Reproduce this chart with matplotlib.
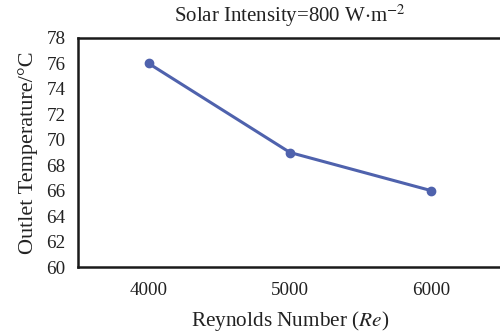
import matplotlib
matplotlib.use("Agg")
import matplotlib.pyplot as plt

plt.rcParams['font.family'] = ['Liberation Serif', 'DejaVu Serif']
plt.rcParams['mathtext.fontset'] = 'stix'

# Reynolds number vs outlet temperature
reynolds = [4000, 5000, 6000]
outlet_temp = [76, 69, 66]
y_ticks = [60, 62, 64, 66, 68, 70, 72, 74, 76, 78]

fig = plt.figure(figsize=(5.0, 3.36), dpi=100)
ax = fig.add_axes([78 / 500, 69 / 336, 424 / 500, 229 / 336])

ax.plot(reynolds, outlet_temp, '-o', color='#4f62ad', lw=2.2, ms=6)

ax.set_xlim(3500, 6500)
ax.set_ylim(60, 78)
ax.set_xticks(reynolds)
ax.set_yticks(y_ticks)
ax.tick_params(length=0, labelsize=13.8, colors='#222222', pad=9)
ax.tick_params(axis='x', pad=11)

for s in ['left', 'bottom', 'top']:
    ax.spines[s].set_linewidth(1.8)
    ax.spines[s].set_color('#1a1a1a')
ax.spines['right'].set_visible(False)

ax.set_title('Solar Intensity=800 W$\\cdot$m$^{-2}$', fontsize=15, pad=12, color='#222222')
ax.set_xlabel('Reynolds Number ($\\mathit{Re}$)', fontsize=15.3, labelpad=7, color='#222222')
ax.set_ylabel('Outlet Temperature/°C', fontsize=16, labelpad=6, color='#222222')

fig.savefig('out.png', dpi=100)
